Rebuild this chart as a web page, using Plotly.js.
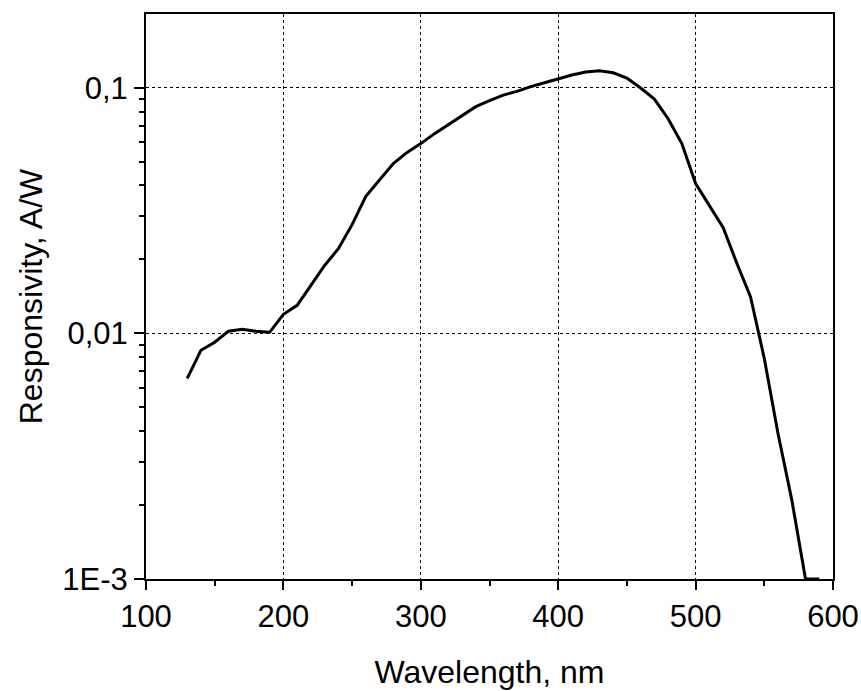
<!DOCTYPE html>
<html>
<head>
<meta charset="utf-8">
<script src="https://cdn.plot.ly/plotly-3.0.1.min.js"></script>
<style>html,body{margin:0;padding:0;background:#fff;}#chart{width:861px;height:691px;}</style>
</head>
<body>
<div id="chart"></div>
<script>
// Wavelength (nm)
const wavelength = [130,140,150,160,170,180,190,200,210,220,230,240,250,260,270,280,290,300,310,320,330,340,350,360,370,380,390,400,410,420,430,440,450,460,470,480,490,500,510,520,530,540,550,560,570,580,590];
// Responsivity (A/W)
const responsivity = [0.00656,0.00853,0.0092,0.0102,0.0104,0.0102,0.0101,0.01195,0.0130,0.0157,0.0189,0.0221,0.0277,0.0361,0.0419,0.0491,0.0545,0.0592,0.0650,0.0708,0.0770,0.0837,0.0885,0.0933,0.0966,0.101,0.1048,0.1088,0.1127,0.1159,0.1173,0.115,0.1094,0.0997,0.0899,0.0748,0.0592,0.0407,0.0331,0.0270,0.0193,0.01406,0.00790,0.00390,0.00210,0.00100,0.00100];
// Axis tick labels
const yTickVals = [0.001, 0.01, 0.1];
const yTickText = ["1E-3", "0,01", "0,1"];
const xTickVals = [100, 200, 300, 400, 500, 600];
const xMinorVals = [150, 250, 350, 450, 550];

const yMinorVals = [];
yTickVals.forEach(d => { for (let k = 2; k <= 9; k++) { if (d * k <= 0.2) yMinorVals.push(d * k); } });

const fontFam = '"Liberation Sans", Arial, sans-serif';
const xRange = [100, 600];
const yRange = [-3, -0.7];

const trace = {
  x: wavelength,
  y: responsivity,
  type: 'scatter',
  mode: 'lines',
  line: {color: '#000', width: 3},
  hoverinfo: 'x+y',
  showlegend: false
};
// helper trace so the minor-tick overlay axes get drawn
const helper = {
  x: [wavelength[0]],
  y: [responsivity[0]],
  xaxis: 'x2',
  yaxis: 'y2',
  type: 'scatter',
  mode: 'markers',
  marker: {opacity: 0},
  hoverinfo: 'skip',
  showlegend: false
};

const layout = {
  width: 861,
  height: 691,
  margin: {l: 146, r: 28, t: 14, b: 112},
  paper_bgcolor: '#fff',
  plot_bgcolor: '#fff',
  font: {family: fontFam, size: 31, color: '#000'},
  xaxis: {
    range: xRange,
    tickmode: 'array',
    tickvals: xTickVals,
    ticks: 'outside',
    ticklen: 9,
    tickwidth: 2,
    tickcolor: '#000',
    showline: true,
    linecolor: '#000',
    linewidth: 2,
    mirror: true,
    showgrid: true,
    gridcolor: '#000',
    gridwidth: 1,
    griddash: 'dot',
    zeroline: false,
    tickfont: {family: fontFam, size: 31, color: '#000'},
    title: {text: 'Wavelength, nm', font: {family: fontFam, size: 32, color: '#000'}, standoff: 27}
  },
  yaxis: {
    type: 'log',
    range: yRange,
    tickmode: 'array',
    tickvals: yTickVals,
    ticktext: yTickText,
    ticks: 'outside',
    ticklen: 10,
    tickwidth: 2,
    tickcolor: '#000',
    showline: true,
    linecolor: '#000',
    linewidth: 2,
    mirror: true,
    showgrid: true,
    gridcolor: '#000',
    gridwidth: 1,
    griddash: 'dot',
    zeroline: false,
    tickfont: {family: fontFam, size: 31, color: '#000'},
    title: {text: 'Responsivity, A/W', font: {family: fontFam, size: 32, color: '#000'}, standoff: 10}
  },
  xaxis2: {
    overlaying: 'x',
    anchor: 'y2',
    side: 'bottom',
    range: xRange,
    tickmode: 'array',
    tickvals: xMinorVals,
    ticks: 'outside',
    ticklen: 6,
    tickwidth: 2,
    tickcolor: '#000',
    showticklabels: false,
    showgrid: false,
    showline: false,
    zeroline: false
  },
  yaxis2: {
    overlaying: 'y',
    anchor: 'x2',
    side: 'left',
    type: 'log',
    range: yRange,
    tickmode: 'array',
    tickvals: yMinorVals,
    ticks: 'outside',
    ticklen: 6,
    tickwidth: 2,
    tickcolor: '#000',
    showticklabels: false,
    showgrid: false,
    showline: false,
    zeroline: false
  }
};

Plotly.newPlot('chart', [trace, helper], layout, {displayModeBar: false, staticPlot: true});
</script>
</body>
</html>
